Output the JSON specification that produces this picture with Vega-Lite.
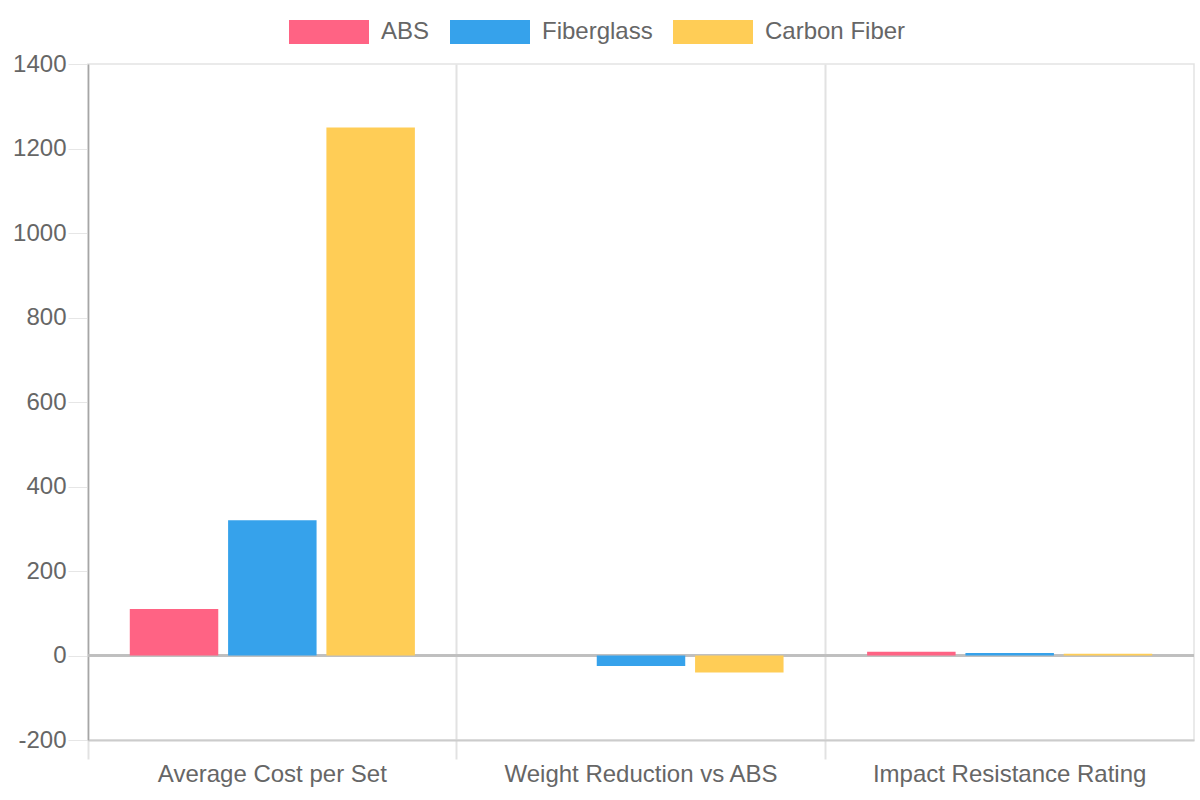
{
  "$schema": "https://vega.github.io/schema/vega-lite/v6.json",
  "autosize": "none",
  "width": 1106,
  "height": 676,
  "padding": {"left": 88, "top": 64, "right": 6, "bottom": 60},
  "background": "white",
  "config": {
    "view": {"stroke": "#e3e3e3", "strokeWidth": 1.5},
    "font": "Liberation Sans",
    "axis": {
      "labelFont": "Liberation Sans",
      "labelFontSize": 24,
      "labelColor": "#666",
      "gridColor": "#e6e6e6",
      "tickColor": "#e6e6e6",
      "title": null
    }
  },
  "data": {
    "values": [
      {"metric": "Average Cost per Set", "material": "ABS", "value": 110},
      {"metric": "Average Cost per Set", "material": "Fiberglass", "value": 320},
      {"metric": "Average Cost per Set", "material": "Carbon Fiber", "value": 1250},
      {"metric": "Weight Reduction vs ABS", "material": "ABS", "value": 0},
      {"metric": "Weight Reduction vs ABS", "material": "Fiberglass", "value": -25},
      {"metric": "Weight Reduction vs ABS", "material": "Carbon Fiber", "value": -40},
      {"metric": "Impact Resistance Rating", "material": "ABS", "value": 9},
      {"metric": "Impact Resistance Rating", "material": "Fiberglass", "value": 6},
      {"metric": "Impact Resistance Rating", "material": "Carbon Fiber", "value": 4}
    ]
  },
  "layer": [
    {
      "mark": {"type": "rule", "color": "#bfbfbf", "strokeWidth": 2},
      "encoding": {"y": {"datum": 0}}
    },
    {
      "mark": {"type": "bar"},
      "encoding": {
        "x": {
          "field": "metric",
          "type": "nominal",
          "sort": null,
          "scale": {"paddingInner": 0, "paddingOuter": 0},
          "axis": {
            "labelAngle": 0,
            "labelPadding": 3,
            "labelLimit": 0,
            "bandPosition": 0,
            "grid": true,
            "gridColor": "#e2e2e2",
            "gridWidth": 2,
            "tickColor": "#e2e2e2",
            "tickWidth": 2,
            "domain": true,
            "domainColor": "#cccccc",
            "domainWidth": 2,
            "tickSize": 19
          }
        },
        "xOffset": {
          "field": "material",
          "type": "nominal",
          "sort": ["ABS", "Fiberglass", "Carbon Fiber"],
          "scale": {"paddingInner": 0.1, "paddingOuter": 0.425}
        },
        "y": {
          "field": "value",
          "type": "quantitative",
          "scale": {"domain": [-200, 1400], "nice": false, "zero": false},
          "axis": {
            "values": [-200, 0, 200, 400, 600, 800, 1000, 1200, 1400],
            "labelExpr": "'' + datum.value",
            "tickSize": 20,
            "labelPadding": 2,
            "domainColor": "#a6a6a6",
            "domainWidth": 1.5
          }
        },
        "color": {
          "field": "material",
          "type": "nominal",
          "sort": ["ABS", "Fiberglass", "Carbon Fiber"],
          "scale": {
            "domain": ["ABS", "Fiberglass", "Carbon Fiber"],
            "range": ["#ff6384", "#36a2eb", "#ffcd56"]
          },
          "legend": {
            "title": null,
            "orient": "none",
            "direction": "horizontal",
            "legendX": 201,
            "legendY": -72,
            "symbolType": "M-1,-0.3H1V0.3H-1Z",
            "symbolSize": 6400,
            "symbolStrokeWidth": 0,
            "symbolOpacity": 1,
            "labelFont": "Liberation Sans",
            "labelFontSize": 24,
            "labelColor": "#666",
            "labelOffset": 12,
            "columnPadding": 20
          }
        }
      }
    }
  ]
}
